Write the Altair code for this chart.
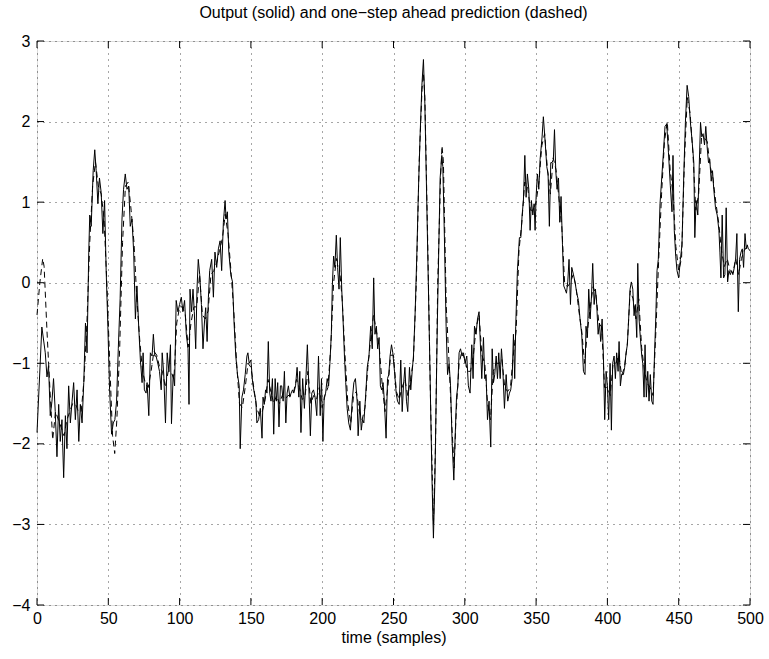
import altair as alt
import pandas as pd

# ---- measured output (solid) ----
out_t = [
    0, 3.4, 5.8, 7.0, 8.1, 9.3, 10.5, 11.6, 12.8, 14.0,
    15.2, 16.3, 17.5, 18.7, 19.9, 21.0, 22.2, 23.4, 24.6, 25.7,
    26.9, 28.1, 29.3, 30.4, 31.6, 32.8, 34.0, 35.1, 36.3, 37.0,
    38.0, 39.4, 40.5, 41.5, 42.7, 43.8, 45.0, 46.2, 47.4, 48.5,
    49.7, 50.9, 52.3, 53.5, 54.6, 55.8, 57.0, 58.3, 59.6, 60.7,
    61.9, 63.1, 64.3, 65.4, 66.6, 67.8, 69.0, 70.1, 71.3, 72.5,
    73.7, 74.4, 75.3, 76.5, 77.2, 78.4, 79.5, 80.7, 81.6, 82.6,
    83.5, 84.7, 85.9, 87.1, 87.8, 88.9, 90.1, 91.3, 92.5, 93.6,
    94.3, 95.5, 96.5, 97.6, 98.8, 100.0, 101.2, 102.3, 103.5, 104.7,
    105.9, 106.6, 107.3, 108.4, 109.4, 110.3, 111.3, 112.2, 113.1, 114.1,
    115.3, 116.4, 117.4, 118.3, 119.3, 120.2, 121.1, 122.5, 123.7, 124.8,
    126.0, 127.2, 128.4, 129.5, 130.7, 131.9, 132.6, 133.5, 134.5, 135.9,
    137.1, 138.2, 139.4, 140.6, 141.8, 142.5, 143.7, 144.8, 146.0, 147.2,
    147.9, 148.8, 150.0, 151.2, 152.4, 153.5, 154.2, 155.4, 156.6, 157.8,
    158.5, 159.4, 160.3, 161.3, 162.2, 163.2, 164.1, 165.1, 166.0, 167.0,
    167.9, 168.8, 169.7, 170.7, 171.6, 172.6, 173.5, 174.5, 175.4, 176.3,
    177.3, 178.2, 179.2, 180.1, 181.3, 182.4, 183.6, 184.3, 185.1, 186.3,
    187.5, 188.7, 189.6, 190.6, 191.7, 192.7, 193.9, 195.0, 196.2, 197.4,
    198.6, 199.5, 200.5, 201.4, 202.4, 203.5, 204.5, 205.4, 206.4, 207.1,
    208.0, 208.9, 209.9, 210.8, 211.8, 212.7, 213.7, 214.6, 215.6, 216.5,
    217.5, 218.6, 219.8, 221.0, 222.2, 223.3, 224.5, 225.2, 226.4, 227.4,
    228.3, 229.2, 230.4, 231.6, 232.8, 234.0, 235.1, 236.1, 237.0, 238.0,
    238.9, 239.9, 240.8, 241.7, 242.7, 243.6, 244.8, 245.8, 246.7, 247.6,
    248.6, 249.5, 250.7, 251.9, 252.8, 254.0, 255.1, 256.1, 257.0, 258.0,
    259.1, 260.0, 261.2, 262.1, 263.1, 264.0, 265.2, 266.4, 267.5, 268.7,
    269.9, 271.0, 272.0, 273.1, 274.1, 275.2, 276.2, 277.1, 278.0, 279.0,
    279.9, 280.8, 281.8, 282.7, 283.9, 284.6, 285.7, 286.9, 287.9, 289.0,
    290.0, 291.1, 292.3, 293.2, 294.2, 295.1, 296.0, 297.0, 298.1, 299.1,
    300.2, 301.4, 302.5, 303.7, 304.9, 305.8, 306.8, 307.9, 308.9, 310.0,
    311.9, 313.1, 314.0, 314.9, 315.9, 317.0, 318.2, 319.2, 320.1, 321.0,
    322.0, 322.9, 323.8, 324.8, 325.7, 326.6, 327.8, 329.0, 330.1, 331.3,
    332.2, 333.2, 334.1, 335.0, 335.7, 336.9, 338.3, 339.3, 340.2, 341.1,
    342.1, 343.0, 343.9, 344.9, 345.8, 346.7, 347.7, 348.6, 349.3, 350.0,
    350.9, 351.9, 352.8, 354.2, 355.1, 356.3, 357.5, 358.4, 359.3, 360.3,
    361.2, 362.1, 362.9, 363.8, 364.7, 365.7, 366.6, 367.5, 368.5, 369.4,
    370.3, 371.3, 372.2, 373.1, 374.1, 375.0, 376.2, 377.3, 378.5, 379.7,
    380.8, 382.0, 383.2, 384.3, 385.0, 386.0, 386.9, 387.9, 388.8, 389.7,
    390.7, 391.6, 392.5, 393.5, 394.4, 395.3, 396.3, 397.2, 398.1, 399.1,
    400.0, 400.9, 401.9, 402.8, 403.7, 404.7, 405.6, 406.5, 407.5, 408.2,
    409.1, 410.0, 411.2, 412.1, 413.1, 414.0, 414.9, 415.9, 416.8, 417.8,
    418.7, 419.6, 420.6, 421.3, 422.2, 423.1, 424.1, 424.8, 425.7, 426.4,
    427.3, 428.3, 429.2, 430.1, 431.1, 432.0, 433.0, 433.9, 434.8, 435.7,
    436.9, 438.1, 439.3, 440.4, 441.6, 442.8, 444.1, 445.3, 446.0, 446.9,
    447.9, 448.8, 450.0, 451.2, 452.3, 453.5, 454.7, 455.9, 457.0, 458.2,
    459.4, 460.6, 461.3, 462.2, 463.4, 464.3, 465.3, 466.2, 467.1, 468.1,
    469.0, 470.0, 470.9, 471.8, 472.8, 473.7, 474.6, 475.8, 477.0, 478.2,
    478.9, 479.6, 480.5, 481.5, 482.4, 483.3, 484.3, 485.2, 486.2, 487.1,
    488.0, 489.0, 489.9, 490.8, 491.8, 492.7, 493.7, 494.6, 495.5, 496.5,
    497.4, 498.1, 498.8, 500.0,
]
out_y = [
    -1.86, -0.55, -0.87, -1.17, -1.03, -1.65, -1.47, -1.19, -1.6, -2.16,
    -1.51, -1.97, -1.7, -2.42, -1.65, -2.06, -1.28, -1.74, -1.47, -1.24,
    -1.7, -1.33, -1.97, -1.51, -1.74, -1.24, -0.5, -0.87, 0.38, 0.84,
    0.7, 1.39, 1.65, 1.39, 0.98, 1.3, 1.12, 0.61, 1.02, 0.15,
    -0.54, -1.33, -1.88, -1.74, -1.7, -1.47, -0.82, -0.2, 0.79, 1.16,
    1.35, 1.16, 1.2, 0.7, 0.79, 0.38, -0.45, -0.04, -0.54, -0.96,
    -1.24, -0.87, -1.33, -1.37, -1.24, -1.65, -0.87, -0.91, -0.64, -0.91,
    -0.91, -1.0, -1.1, -1.33, -0.87, -1.14, -1.74, -0.87, -1.1, -0.77,
    -1.75, -1.14, -1.28, -0.22, -0.36, -0.27, -0.18, -0.36, -0.22, -0.64,
    -0.82, -1.51, -0.08, -0.36, -0.08, -0.36, -0.82, -0.08, 0.29, 0.1,
    -0.27, -0.82, -0.5, -0.31, -0.73, -0.18, 0.15, 0.29, -0.18, 0.38,
    0.19, 0.42, 0.52, 0.15, 0.75, 1.02, 0.79, 0.88, 0.38, 0.1,
    0.01, -0.5, -0.91, -1.14, -1.28, -2.06, -1.42, -1.33, -1.14, -0.91,
    -0.87, -1.0, -0.96, -1.24, -1.37, -1.47, -1.74, -1.7, -1.56, -1.93,
    -1.42, -1.51, -1.33, -1.37, -0.73, -1.37, -1.47, -1.19, -1.88, -1.19,
    -1.47, -1.24, -1.79, -1.28, -1.28, -1.47, -1.1, -1.74, -1.37, -1.28,
    -1.42, -1.37, -1.33, -1.37, -1.28, -1.05, -1.42, -1.1, -1.86, -1.19,
    -1.56, -1.14, -0.77, -1.28, -1.9, -1.37, -1.33, -1.42, -1.65, -0.91,
    -1.65, -1.19, -1.97, -1.42, -1.37, -1.19, -1.28, -1.0, -0.64, -0.04,
    0.33, 0.19, 0.59, 0.19, -0.08, 0.56, -0.08, -0.45, -0.91, -1.24,
    -1.56, -1.74, -1.83, -1.47, -1.24, -1.19, -1.47, -1.9, -1.47, -1.83,
    -1.7, -1.74, -1.42, -1.05, -0.91, -0.54, -0.82, 0.06, -0.64, -0.54,
    -0.82, -0.68, -1.28, -1.33, -1.24, -1.47, -1.93, -1.19, -1.14, -0.91,
    -0.77, -0.87, -1.1, -1.37, -1.47, -1.51, -0.96, -1.6, -1.28, -1.05,
    -1.47, -1.6, -1.05, -1.33, -1.1, -0.91, -0.36, 0.38, 1.16, 1.85,
    2.45, 2.77, 2.22, 1.21, 0.29, -0.73, -1.7, -2.53, -3.17, -2.48,
    -1.47, -0.45, 0.47, 1.3, 1.58, 1.44, 0.56, -0.54, -1.14, -1.0,
    -1.28, -1.97, -2.45, -1.93, -1.42, -1.28, -0.87, -0.82, -0.91, -0.87,
    -1.0, -0.91, -1.28, -1.37, -0.77, -1.19, -0.54, -0.64, -0.45, -0.36,
    -1.19, -0.68, -1.19, -1.14, -1.7, -1.47, -2.04, -0.82, -1.24, -1.14,
    -0.91, -1.19, -0.87, -1.19, -0.82, -1.05, -1.56, -1.14, -1.47, -1.37,
    -1.33, -1.19, -0.64, -1.19, -0.54, 0.15, 0.56, 0.56, 0.84, 1.02,
    1.58, 1.06, 1.35, 1.16, 0.65, 1.02, 0.84, 0.98, 0.65, 1.07,
    1.35, 1.16, 1.53, 1.81, 2.06, 1.76, 1.44, 1.35, 0.7, 1.49,
    1.49, 1.53, 1.9, 1.39, 1.16, 1.3, 0.75, 1.07, 0.47, -0.04,
    -0.08, -0.13, 0.01, 0.29, -0.27, 0.19, 0.1, 0.01, -0.13, -0.22,
    -0.45, -0.64, -1.1, -1.14, -0.54, -0.68, -0.08, -0.45, -0.18, 0.24,
    -0.27, -0.08, -0.27, -0.64, -0.5, -0.73, -0.45, -0.91, -1.7, -1.1,
    -1.28, -1.7, -1.0, -1.83, -1.0, -0.91, -1.19, -0.87, -1.1, -0.73,
    -1.28, -1.14, -1.14, -1.05, -0.87, -0.77, -0.45, -0.08, 0.01, -0.08,
    -0.41, -0.27, -0.68, 0.24, -0.45, -0.68, -0.91, -1.0, -1.42, -0.77,
    -1.42, -1.1, -1.47, -1.14, -1.47, -1.51, -0.91, -0.45, 0.15, 0.29,
    0.98, 1.3, 1.62, 1.94, 1.97, 1.62, 1.21, 0.88, 1.58, 0.65,
    0.33, 0.15, 0.06, 0.29, 0.47, 1.3, 1.99, 2.45, 2.31, 1.99,
    1.76, 1.49, 0.56, 1.02, 0.84, 1.39, 1.99, 1.81, 1.85, 1.71,
    1.94, 1.67, 1.49, 1.53, 1.26, 1.39, 1.16, 0.93, 0.84, 0.65,
    0.38, 0.06, 0.84, 0.06, 0.1, 0.93, 0.01, 0.15, 0.1, 0.15,
    0.1, 0.19, 0.29, 0.61, -0.36, 0.29, 0.38, 0.42, 0.19, 0.61,
    0.42, 0.47, 0.42, 0.4,
]

# ---- one-step ahead prediction (dashed) ----
pred_t = [
    0, 2, 4, 5, 7, 9, 11, 13, 15, 17, 19, 21, 23, 25, 27, 29, 31, 33, 35, 37,
    39, 41, 43, 45, 47, 49, 51, 53, 54.5, 56, 58, 60, 62, 64, 66, 68, 70, 72, 74, 76,
    78, 80, 82, 84, 86, 88, 90, 92, 94, 96, 98, 100, 102, 104, 106, 108, 110, 112, 114, 116,
    118, 120, 122, 124, 126, 128, 130, 132, 134, 136, 138, 140, 142, 144, 146, 148, 150, 152, 154, 156,
    158, 160, 162, 164, 166, 168, 170, 172, 174, 176, 178, 180, 182, 184, 186, 188, 190, 192, 194, 196,
    198, 200, 202, 204, 206, 208, 210, 212, 214, 216, 218, 220, 222, 224, 226, 228, 230, 232, 234, 236,
    238, 240, 242, 244, 246, 248, 250, 252, 254, 256, 258, 260, 262, 264, 266, 268, 270, 271, 272, 274,
    276, 278, 279.5, 281, 283, 284, 285, 287, 289, 291, 292.5, 294, 296, 298, 300, 302, 304, 306, 308, 310,
    312, 314, 316, 318, 320, 322, 324, 326, 328, 330, 332, 334, 336, 338, 340, 342, 344, 346, 348, 350,
    352, 354, 356, 358, 360, 362, 364, 366, 368, 370, 372, 374, 376, 378, 380, 382, 384, 386, 388, 390,
    392, 394, 396, 398, 400, 402, 404, 406, 408, 410, 412, 414, 416, 418, 420, 422, 424, 426, 428, 430,
    432, 434, 436, 438, 440, 442, 444, 446, 448, 450, 452, 454, 456, 458, 460, 462, 464, 466, 468, 470,
    472, 474, 476, 478, 480, 482, 484, 486, 488, 490, 492, 494, 496, 498, 500,
]
pred_y = [
    -0.4, 0.0, 0.3, 0.2, -0.6, -1.3, -1.95, -1.6, -1.7, -1.8, -1.9, -1.7, -1.6, -1.5, -1.5, -1.6, -1.6, -1.2, -0.5, 0.5,
    1.2, 1.5, 1.2, 1.1, 0.8, 0.0, -1.0, -1.9, -2.12, -1.7, -0.8, 0.5, 1.2, 1.25, 0.9, 0.5, -0.2, -0.7, -1.1, -1.25,
    -1.3, -1.1, -0.85, -0.9, -1.05, -1.1, -1.3, -1.1, -1.1, -1.2, -0.5, -0.3, -0.3, -0.4, -0.8, -0.5, -0.3, -0.3, 0.1, -0.4,
    -0.45, -0.35, 0.1, 0.15, 0.25, 0.4, 0.55, 0.85, 0.6, 0.15, -0.35, -1.0, -1.5, -1.55, -1.3, -1.0, -1.05, -1.3, -1.55, -1.65,
    -1.6, -1.45, -1.2, -1.35, -1.5, -1.4, -1.5, -1.4, -1.45, -1.4, -1.4, -1.35, -1.2, -1.3, -1.45, -1.4, -1.1, -1.5, -1.4, -1.45,
    -1.3, -1.55, -1.4, -1.3, -0.8, 0.0, 0.3, 0.2, -0.2, -0.9, -1.5, -1.75, -1.4, -1.35, -1.6, -1.7, -1.55, -1.05, -0.7, -0.4,
    -0.6, -0.8, -1.25, -1.6, -1.3, -0.9, -0.9, -1.35, -1.45, -1.3, -1.2, -1.4, -1.2, -0.95, 0.0, 1.5, 2.4, 2.6, 2.3, 0.5,
    -1.5, -3.0, -2.0, 0.0, 1.3, 1.7, 1.5, -0.3, -1.0, -1.8, -2.3, -1.6, -1.0, -0.85, -0.95, -1.1, -1.1, -0.9, -0.55, -0.4,
    -0.9, -1.0, -1.5, -1.7, -1.1, -1.0, -1.0, -0.95, -1.3, -1.35, -1.3, -0.9, -0.6, 0.4, 0.75, 1.25, 1.2, 0.9, 0.9, 1.0,
    1.25, 1.7, 1.85, 1.4, 1.1, 1.55, 1.4, 1.05, 0.7, 0.0, -0.05, 0.0, 0.1, -0.05, -0.35, -0.6, -1.0, -0.6, -0.3, -0.05,
    -0.15, -0.5, -0.55, -1.3, -1.3, -1.4, -1.0, -1.0, -0.9, -1.15, -1.05, -0.75, -0.1, -0.2, -0.45, -0.2, -0.8, -1.1, -1.25, -1.3,
    -1.4, -0.6, 0.3, 1.1, 1.75, 2.0, 1.4, 1.1, 0.45, 0.15, 0.3, 1.5, 2.3, 2.1, 1.6, 0.9, 1.1, 1.8, 1.8, 1.75,
    1.45, 1.3, 1.0, 0.75, 0.4, 0.2, 0.3, 0.15, 0.12, 0.3, 0.1, 0.3, 0.4, 0.45, 0.4,
]

x_ticks = [0, 50, 100, 150, 200, 250, 300, 350, 400, 450, 500]
y_ticks = [-4, -3, -2, -1, 0, 1, 2, 3]

TITLE = "Output (solid) and one\u2212step ahead prediction (dashed)"
X_TITLE = "time (samples)"

W, H = 713, 564
FONT = "Liberation Sans"
FS = 16

out_df = pd.DataFrame({"t": out_t, "y": out_y})
pred_df = pd.DataFrame({"t": pred_t, "y": pred_y})
xt_df = pd.DataFrame({"v": x_ticks})
yt_df = pd.DataFrame({"v": y_ticks})

xs = alt.Scale(domain=[0, 500], nice=False, zero=False)
ys = alt.Scale(domain=[-4, 3], nice=False, zero=False)

xaxis = alt.Axis(values=x_ticks, title=X_TITLE, grid=True, gridDash=[1, 5],
                 gridColor="#000000", gridOpacity=0.7, ticks=False, domain=False,
                 labelFont=FONT, labelFontSize=FS, labelColor="#000000", labelPadding=5,
                 labelFlush=False, titleFont=FONT, titleFontSize=FS,
                 titleFontWeight="normal", titleColor="#000000", titlePadding=3)
yaxis = alt.Axis(values=y_ticks, title=None, grid=True, gridDash=[1, 5],
                 gridColor="#000000", gridOpacity=0.7, ticks=False, domain=False,
                 labelFont=FONT, labelFontSize=FS, labelColor="#000000", labelPadding=7,
                 labelFlush=False, format="d")

X = alt.X("t:Q", scale=xs, axis=xaxis)
Y = alt.Y("y:Q", scale=ys, axis=yaxis)

pred = alt.Chart(pred_df).mark_line(color="black", strokeWidth=1, strokeDash=[6, 4]).encode(
    x=X, y=Y, order="t:Q")
out = alt.Chart(out_df).mark_line(color="black", strokeWidth=1).encode(
    x=X, y=Y, order="t:Q")

XT = alt.X("v:Q", scale=xs, axis=xaxis)
YT = alt.Y("v:Q", scale=ys, axis=yaxis)
TL = 7
tick_b = alt.Chart(xt_df).mark_rule(color="black", strokeWidth=1).encode(
    x=XT, y=alt.value(H), y2=alt.value(H - TL))
tick_t = alt.Chart(xt_df).mark_rule(color="black", strokeWidth=1).encode(
    x=XT, y=alt.value(0), y2=alt.value(TL))
tick_l = alt.Chart(yt_df).mark_rule(color="black", strokeWidth=1).encode(
    y=YT, x=alt.value(0), x2=alt.value(TL))
tick_r = alt.Chart(yt_df).mark_rule(color="black", strokeWidth=1).encode(
    y=YT, x=alt.value(W), x2=alt.value(W - TL))

chart = alt.layer(pred, out, tick_b, tick_t, tick_l, tick_r).properties(
    width=W, height=H,
    title=alt.TitleParams(TITLE, font=FONT, fontSize=FS, fontWeight="normal",
                          color="black", anchor="middle", offset=12),
    padding={"left": 37, "top": 41, "right": 19, "bottom": 54},
    autosize=alt.AutoSizeParams(type="none"),
).configure_view(stroke="black", strokeWidth=1).configure(background="white")

chart.save("out.html", embed_options={"renderer": "svg", "actions": False})
